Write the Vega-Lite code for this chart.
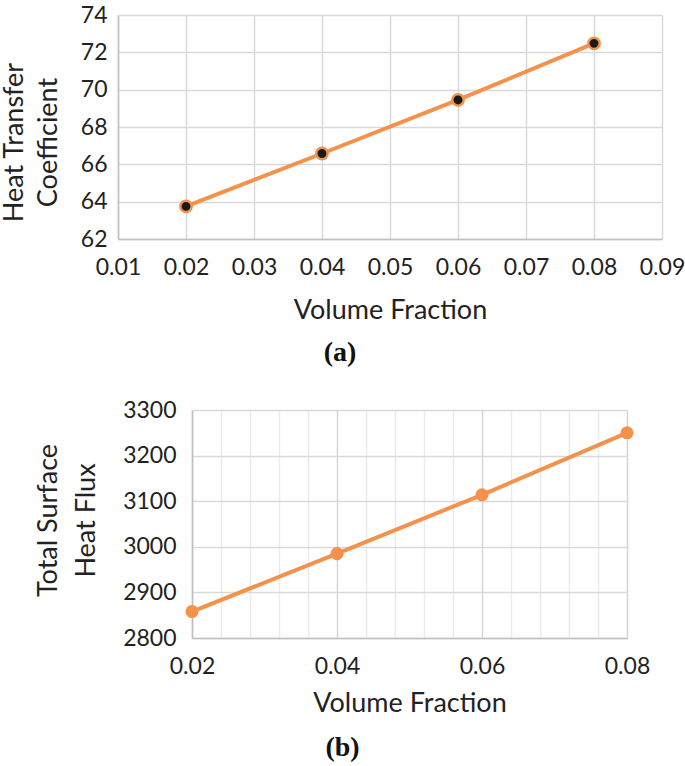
{
  "$schema": "https://vega.github.io/schema/vega-lite/v6.json",
  "background": "white",
  "padding": {"left": 0, "top": 4, "right": 0, "bottom": 5},
  "config": {
    "font": "Lato",
    "view": {"stroke": null},
    "axis": {
      "labelFont": "Lato", "labelFontSize": 23, "labelColor": "#222222",
      "titleFont": "Lato", "titleFontSize": 27, "titleFontWeight": "normal", "titleColor": "#222222",
      "ticks": false, "gridColor": "#D9D9D9", "gridWidth": 1.5,
      "domainColor": "#BFBFBF", "domainWidth": 1.5
    },
    "title": {"font": "Liberation Serif", "fontSize": 28, "fontWeight": "bold", "color": "#111111", "orient": "bottom", "frame": "group", "anchor": "middle"}
  },
  "datasets": {
    "htc": [
      {"vf": 0.02, "h": 63.75},
      {"vf": 0.04, "h": 66.58},
      {"vf": 0.06, "h": 69.45},
      {"vf": 0.08, "h": 72.48}
    ],
    "flux": [
      {"vf": 0.02, "q": 2858},
      {"vf": 0.04, "q": 2985},
      {"vf": 0.06, "q": 3114},
      {"vf": 0.08, "q": 3250}
    ]
  },
  "vconcat": [
    {
      "width": 544, "height": 224,
      "data": {"name": "htc"},
      "title": {"text": "(a)", "offset": 16, "dx": -50},
      "encoding": {
        "x": {"field": "vf", "type": "quantitative", "title": "Volume Fraction",
          "scale": {"domain": [0.01, 0.09], "nice": false},
          "axis": {"values": [0.01, 0.02, 0.03, 0.04, 0.05, 0.06, 0.07, 0.08, 0.09], "format": ".2f", "labelPadding": 17, "titlePadding": 18, "labelFlush": false}},
        "y": {"field": "h", "type": "quantitative",
          "title": ["Heat Transfer", "Coefficient"],
          "scale": {"domain": [62, 74], "nice": false, "zero": false},
          "axis": {"values": [62, 64, 66, 68, 70, 72, 74], "labelPadding": 11, "titlePadding": 18, "titleLineHeight": 34, "titleY": 127}}
      },
      "layer": [
        {"mark": {"type": "line", "color": "#F4914B", "strokeWidth": 4}},
        {"mark": {"type": "point", "filled": true, "fill": "#1A1A1A", "stroke": "#F4914B", "strokeWidth": 2.5, "size": 130, "opacity": 1, "shape": "circle"}}
      ]
    },
    {
      "width": 509, "height": 228,
      "data": {"name": "flux"},
      "title": {"text": "(b)", "offset": 18, "dx": -30},
      "encoding": {
        "x": {"field": "vf", "type": "quantitative", "title": "Volume Fraction",
          "scale": {"domain": [0.02, 0.08], "nice": false, "range": [74, 509]},
          "axis": {"values": [0.02, 0.024, 0.028, 0.032, 0.036, 0.04, 0.044, 0.048, 0.052, 0.056, 0.06, 0.064, 0.068, 0.072, 0.076, 0.08],
            "labelExpr": "abs(datum.value * 50 - round(datum.value * 50)) < 0.01 ? format(datum.value, '.2f') : ''",
            "gridColor": {"condition": {"test": "abs(datum.value * 50 - round(datum.value * 50)) < 0.01", "value": "#D4D4D4"}, "value": "#EBEBEB"},
            "labelPadding": 17, "titlePadding": 12, "labelFlush": false}},
        "y": {"field": "q", "type": "quantitative",
          "title": ["Total Surface", "Heat Flux"],
          "scale": {"domain": [2800, 3300], "nice": false, "zero": false},
          "axis": {"values": [2800, 2900, 3000, 3100, 3200, 3300], "format": "d", "offset": -74, "labelPadding": 16, "titlePadding": 22, "titleLineHeight": 38, "titleY": 110}}
      },
      "layer": [
        {"mark": {"type": "line", "color": "#F4914B", "strokeWidth": 4}},
        {"mark": {"type": "point", "filled": true, "color": "#F4914B", "size": 170, "opacity": 1, "shape": "circle"}}
      ]
    }
  ],
  "spacing": 32
}
